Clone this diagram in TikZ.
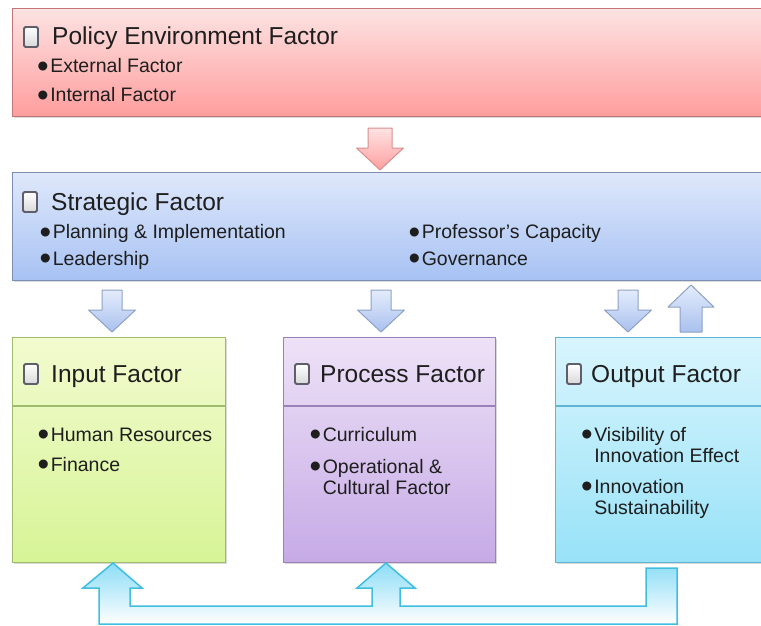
\documentclass[tikz,border=0pt]{standalone}
\usepackage{fontspec}
\setmainfont{Liberation Sans}
\usetikzlibrary{calc, shadows}
\definecolor{polline}{HTML}{C27878}
\definecolor{polhi}{HTML}{FDE3E3}
\definecolor{pollo}{HTML}{FF9D9D}
\definecolor{strline}{HTML}{7D90B4}
\definecolor{strhi}{HTML}{DFE8FB}
\definecolor{strlo}{HTML}{A7C2F3}
\definecolor{inpline}{HTML}{9EBC6C}
\definecolor{inphi}{HTML}{F2FBCF}
\definecolor{inplo}{HTML}{D7F496}
\definecolor{prcline}{HTML}{9C80B8}
\definecolor{prchi}{HTML}{EEE2F7}
\definecolor{prclo}{HTML}{C6AAE6}
\definecolor{outln}{HTML}{5FB6D4}
\definecolor{outhi}{HTML}{D8F5FD}
\definecolor{outlo}{HTML}{98E2F8}
\definecolor{fbline}{HTML}{3FBEDF}
\definecolor{fbhi}{HTML}{8CDDF6}
\definecolor{fbmid}{HTML}{B4EBFA}
\definecolor{barline}{HTML}{8DA1C6}
\definecolor{barhi}{HTML}{E4ECFC}
\definecolor{barlo}{HTML}{A9C1EE}
\definecolor{rarline}{HTML}{D88E8E}
\definecolor{rarhi}{HTML}{FFE3E3}
\definecolor{rarlo}{HTML}{FF9F9F}
\definecolor{txt}{HTML}{1E1E1E}
\definecolor{chkgray}{HTML}{5F5F6B}

\newcommand{\bul}{\smash{\raisebox{-0.25em}{\scalebox{1.7}{\textbullet}}}\hspace{1.5pt}}

\begin{document}
\begin{tikzpicture}[x=1pt, y=-1pt,
  factor/.style n args={3}{
    draw=#1, line width=1.2pt, top color=#2, bottom color=#3,
    anchor=north west, inner sep=0pt,
    drop shadow={opacity=0.3, shadow xshift=1pt, shadow yshift=-1.5pt}
  },
  chk/.style={draw=chkgray, line width=1.8pt, rounded corners=1.5pt,
    top color=white, bottom color=gray!30,
    minimum width=14pt, minimum height=20pt, inner sep=0pt},
  ttl/.style={font=\fontsize{24.5}{28}\selectfont, text=txt, anchor=base west, inner sep=0pt},
  itm/.style={font=\fontsize{19.5}{21}\selectfont, text=txt, anchor=base west,
    inner sep=0pt, align=left},
  sep/.style={draw=#1, line width=1.5pt},
  blk/.style n args={3}{draw=#1, line width=1pt, line join=round,
    top color=#2, bottom color=#3},
  fb/.style={draw=fbline, line width=1.5pt, line join=miter,
    top color=fbhi, middle color=fbmid, bottom color=white},
  pics/dnarrow/.style={code={
    \path[pic actions] (0,0) -- (-23.5,-22) -- (-#1,-22) -- (-#1,-42)
      -- (#1,-42) -- (#1,-22) -- (23.5,-22) -- cycle;}},
  pics/dnarrow/.default=10,
  pics/uparrow/.style={code={
    \path[pic actions] (0,0) -- (-23,22) -- (-11,22) -- (-11,47)
      -- (11,47) -- (11,22) -- (23,22) -- cycle;}},
]

\useasboundingbox (0,0) rectangle (761,626);
\clip (0,0) rectangle (761,626);

% Boxes
\node[factor={polline}{polhi}{pollo}, minimum width=763pt, minimum height=108pt] (policy) at (12,8) {};
\node[factor={strline}{strhi}{strlo}, minimum width=763pt, minimum height=108pt] (strat) at (12,172) {};
\node[factor={inpline}{inphi}{inplo}, minimum width=213pt, minimum height=225pt] (inp) at (12,337) {};
\node[factor={prcline}{prchi}{prclo}, minimum width=212pt, minimum height=225pt] (prc) at (283,337) {};
\node[factor={outln}{outhi}{outlo}, minimum width=220pt, minimum height=225pt] (out) at (555,337) {};

% Header rules
\draw[sep=inpline] ($(inp.north west)+(0,69)$) -- ($(inp.north east)+(0,69)$);
\draw[sep=prcline] ($(prc.north west)+(0,69)$) -- ($(prc.north east)+(0,69)$);
\draw[sep=outln] ($(out.north west)+(0,69)$) -- ($(out.north east)+(0,69)$);

% Policy environment
\node[chk] (pol-chk) at (31,37) {};
\node[ttl] (pol-ttl) at (52,45) {Policy Environment Factor};
\node[itm] (pol-ext) at (37,72.5) {\bul External Factor};
\node[itm] (pol-int) at (37,101.5) {\bul Internal Factor};

% Strategic
\node[chk] (str-chk) at (30,202) {};
\node[ttl] (str-ttl) at (51,210) {Strategic Factor};
\node[itm] (str-plan) at (39.5,238.5) {\bul Planning \& Implementation};
\node[itm] (str-lead) at (39.5,265) {\bul Leadership};
\node[itm] (str-prof) at (408.5,238.5) {\bul Professor's Capacity};
\node[itm] (str-gov) at (408.5,265) {\bul Governance};

% Input
\node[chk] (inp-chk) at (31,374) {};
\node[ttl] (inp-ttl) at (51,382) {Input Factor};
\node[itm] (inp-hum) at (37.5,441) {\bul Human Resources};
\node[itm] (inp-fin) at (37.5,471) {\bul Finance};

% Process
\node[chk] (prc-chk) at (302,374) {};
\node[ttl] (prc-ttl) at (320,382) {Process Factor};
\node[itm] (prc-cur) at (309.5,441) {\bul Curriculum};
\node[itm] (prc-ops) at (309.5,494) {\bul Operational \&\\\hphantom{\bul}Cultural Factor};

% Output
\node[chk] (out-chk) at (574,374) {};
\node[ttl] (out-ttl) at (591,382) {Output Factor};
\node[itm] (out-vis) at (581,462) {\bul Visibility of\\\hphantom{\bul}Innovation Effect};
\node[itm] (out-sus) at (581,514) {\bul Innovation\\\hphantom{\bul}Sustainability};

% Block arrows
\pic[blk={rarline}{rarhi}{rarlo}] at (380,170) {dnarrow=12};
\pic[blk={barline}{barhi}{barlo}] at (112,332) {dnarrow};
\pic[blk={barline}{barhi}{barlo}] at (381,332) {dnarrow};
\pic[blk={barline}{barhi}{barlo}] at (628,332) {dnarrow};
\pic[blk={barline}{barhi}{barlo}] at (691,285) {uparrow};

% Feedback loop from output back to input and process
\draw[fb] (646,568) -- (677,568) -- (677,624) -- (99,624) -- (99,588) -- (83,588)
  -- (113,563) -- (142,588) -- (130,588) -- (130,606) -- (372,606) -- (372,588)
  -- (357,588) -- (386,563) -- (415,588) -- (400,588) -- (400,606) -- (646,606) -- cycle;

\end{tikzpicture}
\end{document}
